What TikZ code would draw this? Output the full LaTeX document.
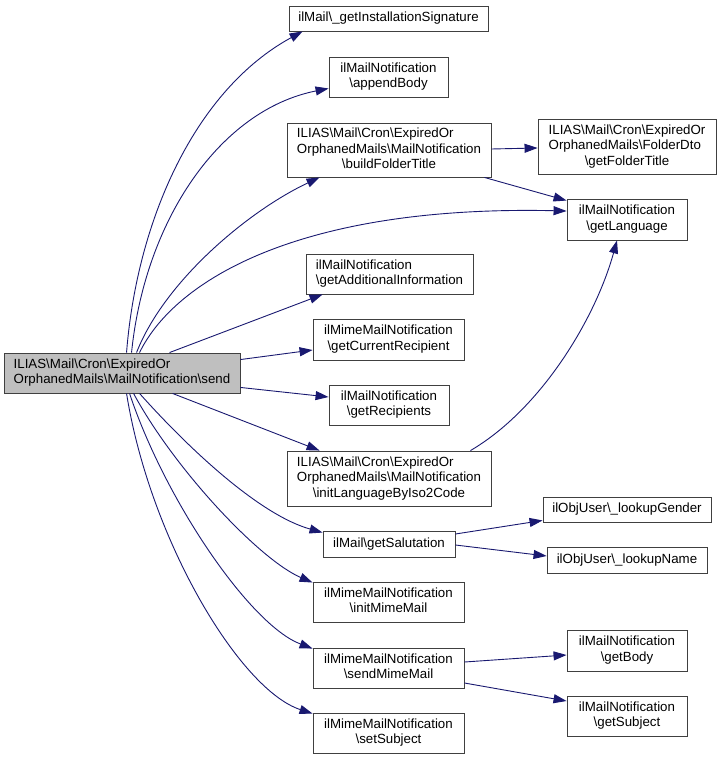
\documentclass[tikz,border=0pt]{standalone}
\usepackage{fontspec}
\setmainfont{Liberation Sans}
\usetikzlibrary{arrows.meta}
\definecolor{edgeblue}{HTML}{191970}
\definecolor{rootgray}{HTML}{BFBFBF}
\newcommand{\bs}{\textbackslash}
\newcommand{\fnlabel}[2]{\begin{tabular}{@{}l@{}}#1\multicolumn{1}{@{}c@{}}{#2}\end{tabular}}
\begin{document}
\begin{tikzpicture}[
x=1pt, y=-1pt,
fn/.style={
draw=black!75,
line width=0.9pt,
inner sep=0pt,
font=\fontsize{13.3}{15.6}\selectfont
},
root/.style={fn, fill=rootgray},
call/.style={edgeblue, line width=0.9pt, -{Triangle[length=13pt,width=9pt]}}
]
\useasboundingbox (0,0) rectangle (721,759);
\node[root, minimum width=236, minimum height=40] (send) at (122,373) {\fnlabel{ILIAS\bs Mail\bs Cron\bs ExpiredOr\\}{OrphanedMails\bs MailNotification\bs send}};
\node[fn, minimum width=199, minimum height=25] (sig) at (388.5,18.5) {ilMail\bs\_getInstallationSignature};
\node[fn, minimum width=119, minimum height=40] (append) at (388.5,77) {\fnlabel{ilMailNotification\\}{\bs appendBody}};
\node[fn, minimum width=204, minimum height=54] (build) at (389,150) {\fnlabel{ILIAS\bs Mail\bs Cron\bs ExpiredOr\\OrphanedMails\bs MailNotification\\}{\bs buildFolderTitle}};
\node[fn, minimum width=178, minimum height=55] (folder) at (627,146.5) {\fnlabel{ILIAS\bs Mail\bs Cron\bs ExpiredOr\\OrphanedMails\bs FolderDto\\}{\bs getFolderTitle}};
\node[fn, minimum width=120, minimum height=41] (lang) at (627,219.5) {\fnlabel{ilMailNotification\\}{\bs getLanguage}};
\node[fn, minimum width=167, minimum height=40] (addinfo) at (389.5,274) {\fnlabel{ilMailNotification\\}{\bs getAdditionalInformation}};
\node[fn, minimum width=151, minimum height=41] (currecip) at (388.5,339.5) {\fnlabel{ilMimeMailNotification\\}{\bs getCurrentRecipient}};
\node[fn, minimum width=120, minimum height=40] (recips) at (389,405) {\fnlabel{ilMailNotification\\}{\bs getRecipients}};
\node[fn, minimum width=204, minimum height=55] (initlang) at (389,478.5) {\fnlabel{ILIAS\bs Mail\bs Cron\bs ExpiredOr\\OrphanedMails\bs MailNotification\\}{\bs initLanguageByIso2Code}};
\node[fn, minimum width=168, minimum height=25] (gender) at (627,509.5) {ilObjUser\bs\_lookupGender};
\node[fn, minimum width=132, minimum height=26] (salut) at (389,544) {ilMail\bs getSalutation};
\node[fn, minimum width=160, minimum height=26] (name) at (627,560) {ilObjUser\bs\_lookupName};
\node[fn, minimum width=151, minimum height=40] (initmime) at (388.5,602) {\fnlabel{ilMimeMailNotification\\}{\bs initMimeMail}};
\node[fn, minimum width=120, minimum height=41] (body) at (627,650.5) {\fnlabel{ilMailNotification\\}{\bs getBody}};
\node[fn, minimum width=151, minimum height=40] (sendmime) at (388.5,668) {\fnlabel{ilMimeMailNotification\\}{\bs sendMimeMail}};
\node[fn, minimum width=120, minimum height=40] (subject) at (627,716) {\fnlabel{ilMailNotification\\}{\bs getSubject}};
\node[fn, minimum width=151, minimum height=40] (setsubj) at (388.5,733) {\fnlabel{ilMimeMailNotification\\}{\bs setSubject}};
\draw[call] ([xshift=123]send.north west) .. controls (137,220) and (195,90) .. ([xshift=14]sig.south west);
\draw[call] ([xshift=128]send.north west) .. controls (145,220) and (220,110) .. ([yshift=9]append.south west);
\draw[call] ([xshift=133]send.north west) .. controls (165,280) and (250,210) .. ([xshift=33]build.south west);
\draw[call] ([xshift=136]send.north west) .. controls (175,280) and (300,205) .. ([yshift=8.5]lang.west);
\draw[call] ([xshift=166]send.north west) -- ([xshift=17]addinfo.south west);
\draw[call] ([yshift=-7]send.north east) -- ([yshift=-10.5]currecip.west);
\draw[call] ([yshift=6]send.south east) -- ([yshift=8]recips.west);
\draw[call] ([xshift=169]send.south west) -- ([xshift=33]initlang.north west);
\draw[call] ([xshift=136]send.south west) .. controls (190,450) and (260,515) .. ([yshift=-2]salut.north west);
\draw[call] ([xshift=130]send.south west) .. controls (175,470) and (260,560) .. ([yshift=-1]initmime.north west);
\draw[call] ([xshift=126]send.south west) .. controls (165,500) and (250,625) .. ([yshift=-1]sendmime.north west);
\draw[call] ([xshift=123]send.south west) .. controls (150,540) and (240,690) .. ([yshift=-1]setsubj.north west);
\draw[call] ([yshift=1]build.east) -- ([yshift=-1.5]folder.west);
\draw[call] ([xshift=-7]build.south east) -- ([yshift=-2]lang.north west);
\draw[call] ([xshift=-21]initlang.north east) .. controls (540,410) and (595,320) .. ([xshift=-10]lang.south);
\draw[call] ([yshift=10]salut.east) -- ([yshift=2]gender.south west);
\draw[call] ([yshift=-1]salut.east) -- ([yshift=4]name.west);
\draw[call] ([yshift=6]sendmime.east) -- ([yshift=-4.5]body.west);
\draw[call] ([yshift=-15]sendmime.east) -- ([yshift=15]subject.west);
\end{tikzpicture}
\end{document}
